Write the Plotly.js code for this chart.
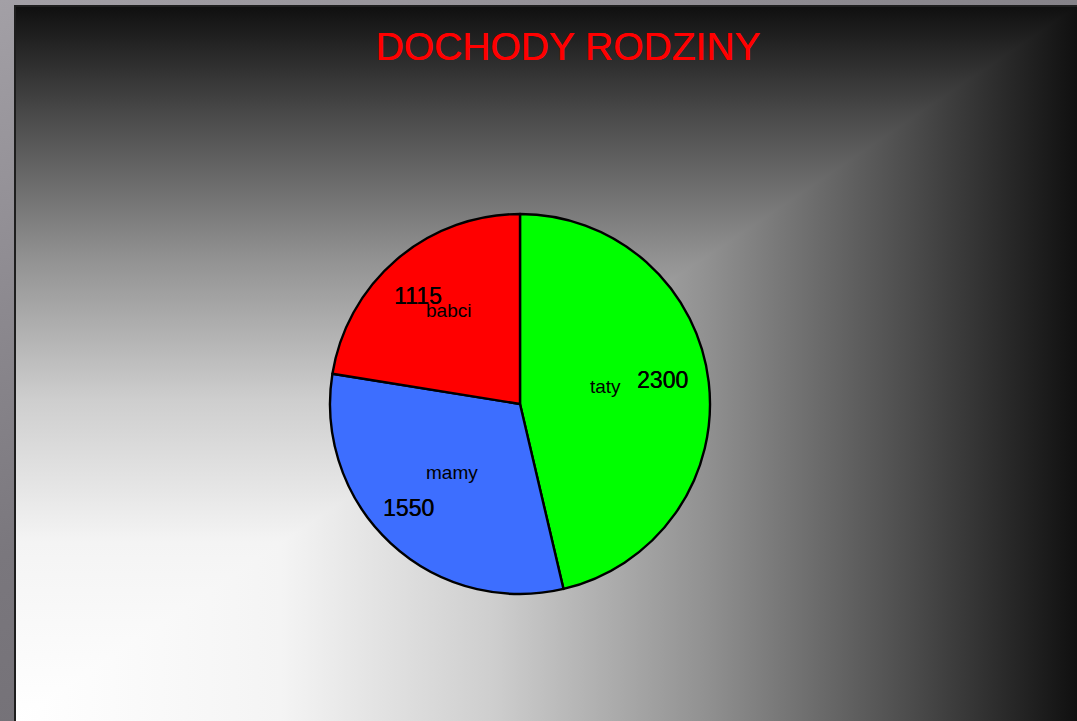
<!DOCTYPE html>
<html>
<head>
<meta charset="utf-8">
<script src="https://cdn.plot.ly/plotly-3.0.1.min.js"></script>
<style>
  html, body { margin:0; padding:0; width:1077px; height:721px; overflow:hidden; background:#77747a; }
  #frame { position:absolute; left:0; top:0; width:1077px; height:721px;
           background: linear-gradient(160deg, #a3a0a6 0%, #7a777d 50%, #6a676d 100%); }
  #bg { position:absolute; left:14px; top:5px; width:1061px; height:714px;
        border-left:2px solid #1e1e1e; border-top:2px solid #1e1e1e;
        background:
          linear-gradient(to right, #ffffff 0%, #f4f4f4 25%, #cecece 45%, #919191 65%, #4d4d4d 84%, #101010 100%),
          linear-gradient(to top, #ffffff 0%, #f4f4f4 25%, #cecece 45%, #919191 65%, #4d4d4d 84%, #101010 100%);
        background-blend-mode: darken; }
  #chart { position:absolute; left:0; top:0; width:1077px; height:721px; }
</style>
</head>
<body>
<div id="frame"></div>
<div id="bg"></div>
<div id="chart"></div>
<script>
// ---- data ----
const categories = ['taty', 'mamy', 'babci'];
const values = [2300, 1550, 1115];
const sliceColors = ['#00ff00', '#3d6eff', '#ff0000'];
const chartTitle = 'DOCHODY RODZINY';

// ---- label styling (relative radius / angle tweak per slice) ----
const nameRadius = [0.46, 0.51, 0.62];
const valueRadius = [0.76, 0.80, 0.78];
const nameAngleShift = [-5, 2, 3];
const valueAngleShift = [-3, 4, -3];

const W = 1077, H = 721;
const cxPx = 520, cyPx = 404, R = 190;

const trace = {
  type: 'pie',
  labels: categories,
  values: values,
  sort: false,
  direction: 'clockwise',
  rotation: 0,
  textinfo: 'none',
  hoverinfo: 'label+value',
  marker: { colors: sliceColors, line: { color: '#000000', width: 2.4 } },
  domain: {
    x: [(cxPx - R) / W, (cxPx + R) / W],
    y: [(H - cyPx - R) / H, (H - cyPx + R) / H]
  }
};

// annotations computed from the data through slice angles
const total = values.reduce((a, b) => a + b, 0);
const annotations = [];
let cum = 0;
values.forEach((v, i) => {
  const mid = (cum + v / 2) / total * 360;
  cum += v;
  const place = (f, shift) => {
    const a = (mid + shift) * Math.PI / 180;
    return {
      x: (cxPx + f * R * Math.sin(a)) / W,
      y: (H - cyPx + f * R * Math.cos(a)) / H
    };
  };
  const pv = place(valueRadius[i], valueAngleShift[i]);
  annotations.push({
    xref: 'paper', yref: 'paper', x: pv.x, y: pv.y,
    xanchor: 'center', yanchor: 'middle', showarrow: false,
    text: String(v),
    font: { family: 'Liberation Sans, Arial, sans-serif', size: 23, color: '#000000',
            shadow: '0.3px 0 0 #000000' }
  });
  const pn = place(nameRadius[i], nameAngleShift[i]);
  annotations.push({
    xref: 'paper', yref: 'paper', x: pn.x, y: pn.y,
    xanchor: 'center', yanchor: 'middle', showarrow: false,
    text: categories[i],
    font: { family: 'Liberation Sans, Arial, sans-serif', size: 19, color: '#000000' }
  });
});

const layout = {
  width: W, height: H,
  margin: { l: 0, r: 0, t: 0, b: 0 },
  paper_bgcolor: 'rgba(0,0,0,0)',
  plot_bgcolor: 'rgba(0,0,0,0)',
  showlegend: false,
  title: {
    text: chartTitle,
    x: 568 / W, xanchor: 'center', xref: 'paper',
    y: 1 - 46 / H, yanchor: 'middle', yref: 'container',
    font: { family: 'Liberation Sans, Arial, sans-serif', size: 39, color: '#ff0000',
            shadow: '0.4px 0 0 #ff0000' }
  },
  annotations: annotations
};

Plotly.newPlot('chart', [trace], layout, { displayModeBar: false, staticPlot: true });
</script>
</body>
</html>
